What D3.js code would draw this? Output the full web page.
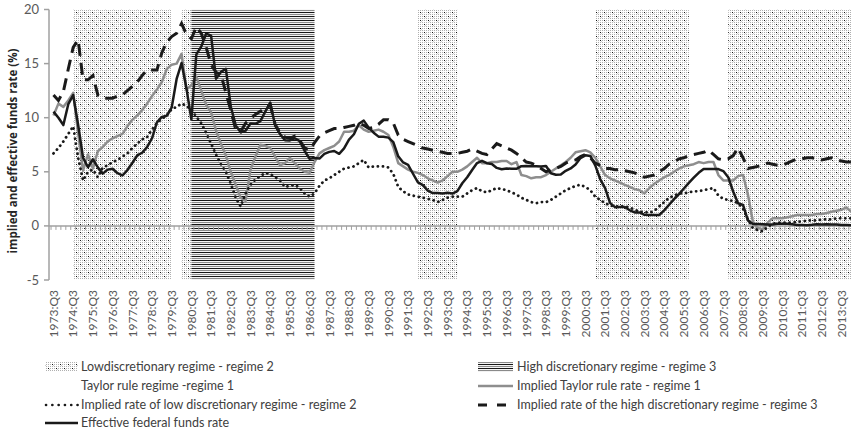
<!DOCTYPE html>
<html>
<head>
<meta charset="utf-8">
<script src="https://cdn.jsdelivr.net/npm/d3@7"></script>
<style>
  body { margin: 0; background: #fff; }
  svg { display: block; }
</style>
</head>
<body>
<div id="chart"></div>
<script>
// quarters from 1973:Q3 to 2014:Q1
var quarters = [];
for (var yr = 1973; yr <= 2014; yr++) {
    for (var q = 1; q <= 4; q++) {
        if (yr == 1973 && q < 3) continue;
        if (yr == 2014 && q > 1) continue;
        quarters.push(yr + ':Q' + q);
    }
}

var tickLabels = ['1973:Q3', '1974:Q3', '1975:Q3', '1976:Q3', '1977:Q3', '1978:Q3', '1979:Q3',
    '1980:Q3', '1981:Q3', '1982:Q3', '1983:Q3', '1984:Q3', '1985:Q3', '1986:Q3', '1987:Q3',
    '1988:Q3', '1989:Q3', '1990:Q3', '1991:Q3', '1992:Q3', '1993:Q3', '1994:Q3', '1995:Q3',
    '1996:Q3', '1997:Q3', '1998:Q3', '1999:Q3', '2000:Q3', '2001:Q3', '2002:Q3', '2003:Q3',
    '2004:Q3', '2005:Q3', '2006:Q3', '2007:Q3', '2008:Q3', '2009:Q3', '2010:Q3', '2011:Q3',
    '2012:Q3', '2013:Q3'];

var yTicks = [-5, 0, 5, 10, 15, 20];

// shaded regimes [from, to]
var regime2Periods = [['1974:Q3', '1979:Q3'], ['1980:Q1', '1980:Q3'], ['1992:Q1', '1994:Q1'],
    ['2001:Q1', '2005:Q4'], ['2007:Q4', '2014:Q1']];
var regime3Periods = [['1980:Q3', '1986:Q4']];

// effective federal funds rate
var effectiveRate = [10.56, 10.00, 9.32, 11.25,
    12.09, 9.35, 6.30, 5.42, 6.16, 5.41, 4.83, 5.20, 5.28, 4.87, 4.66, 5.16,
    5.82, 6.51, 6.76, 7.28, 8.10, 9.58, 10.07, 10.18, 10.95, 13.58, 15.05, 12.69,
    9.84, 15.85, 16.57, 17.78, 17.58, 13.59, 14.23, 14.51, 11.01, 9.29, 8.65, 8.80,
    9.46, 9.43, 9.69, 10.56, 11.39, 9.27, 8.48, 7.92, 7.90, 8.10, 7.83, 6.92,
    6.21, 6.27, 6.22, 6.65, 6.84, 6.92, 6.66, 7.16, 7.98, 8.47, 9.44, 9.73,
    9.08, 8.61, 8.25, 8.24, 8.16, 7.74, 6.43, 5.86, 5.64, 4.82, 4.02, 3.77,
    3.26, 3.04, 3.04, 3.00, 3.06, 2.99, 3.21, 3.94, 4.49, 5.17, 5.81, 6.02,
    5.80, 5.72, 5.36, 5.24, 5.31, 5.28, 5.28, 5.52, 5.53, 5.51, 5.52, 5.50,
    5.53, 4.86, 4.73, 4.75, 5.09, 5.31, 5.68, 6.27, 6.52, 6.47, 5.59, 4.33,
    3.50, 2.13, 1.73, 1.75, 1.74, 1.44, 1.25, 1.25, 1.02, 1.00, 1.00, 1.01,
    1.43, 1.95, 2.47, 2.94, 3.46, 3.98, 4.46, 4.91, 5.25, 5.25, 5.26, 5.25,
    5.07, 4.50, 3.18, 2.09, 1.94, 0.51, 0.18, 0.18, 0.16, 0.12, 0.13, 0.19,
    0.19, 0.19, 0.16, 0.09, 0.08, 0.07, 0.10, 0.15, 0.14, 0.16, 0.14, 0.12,
    0.08, 0.09, 0.07];

// implied Taylor rule rate - regime 1
var taylorRate = [10.2, 11.3, 11.0, 11.6,
    12.3, 8.6, 5.1, 6.6, 5.3, 6.9, 7.3, 7.8, 8.1, 8.3, 8.5, 9.2,
    9.8, 10.2, 10.7, 11.3, 12.0, 12.6, 13.3, 14.5, 14.9, 15.0, 15.9, 12.6,
    13.0, 13.8, 12.5, 11.2, 10.5, 8.8, 7.6, 6.5, 5.0, 3.8, 2.6, 2.3,
    5.2, 6.4, 7.5, 7.4, 7.2, 6.4, 5.6, 5.8, 6.3, 5.8, 5.3, 5.0,
    4.9, 5.9, 6.7, 7.0, 7.2, 7.4, 7.8, 8.7, 8.7, 8.8, 9.3, 8.9,
    8.7, 8.8, 8.9, 8.7, 8.4, 7.3, 5.8, 5.5, 5.2, 5.0, 4.9, 4.7,
    4.4, 4.2, 4.0, 4.2, 4.6, 5.0, 5.0, 5.2, 5.5, 5.9, 6.3, 5.8,
    5.8, 5.9, 5.9, 6.0, 6.0, 5.7, 5.9, 4.7, 4.6, 4.4, 4.5, 4.5,
    4.7, 5.0, 5.3, 5.6, 5.9, 6.3, 6.8, 6.9, 7.0, 6.8, 6.3, 5.5,
    4.7, 4.4, 4.2, 4.0, 3.8, 3.6, 3.4, 3.3, 3.0, 3.5, 3.9, 4.2,
    4.5, 4.7, 5.0, 5.3, 5.5, 5.6, 5.7, 5.9, 5.8, 5.9, 5.9, 4.7,
    4.2, 4.2, 4.2, 4.6, 4.7, 2.9, 0.4, -0.2, -0.3, 0.3, 0.7, 0.7,
    0.7, 0.8, 0.9, 1.0, 1.0, 1.0, 1.0, 1.1, 1.1, 1.2, 1.3, 1.4,
    1.5, 1.7, 1.3];

// implied rate of low discretionary regime - regime 2
var lowRate = [6.7, 7.2, 7.8, 8.5,
    9.2, 6.3, 4.2, 5.0, 5.2, 4.5, 5.4, 5.6, 5.9, 6.1, 6.4, 6.7,
    7.2, 7.6, 8.0, 8.2, 8.9, 9.5, 9.9, 10.2, 10.8, 11.0, 11.3, 11.1,
    10.7, 10.1, 9.5, 8.6, 7.6, 6.6, 5.7, 5.0, 3.9, 2.6, 1.8, 3.0,
    3.8, 4.3, 4.6, 4.9, 4.8, 4.5, 4.2, 3.6, 3.7, 3.8, 3.5, 3.0,
    2.7, 3.0, 3.7, 4.2, 4.4, 4.7, 5.0, 5.3, 5.4, 5.5, 5.8, 6.1,
    5.4, 5.5, 5.5, 5.5, 5.4, 4.8, 3.6, 3.2, 2.9, 2.8, 2.7, 2.6,
    2.5, 2.4, 2.2, 2.4, 2.6, 2.7, 2.7, 2.7, 3.0, 3.3, 3.5, 3.2,
    3.1, 3.3, 3.5, 3.4, 3.3, 3.1, 2.9, 2.6, 2.4, 2.2, 2.1, 2.2,
    2.2, 2.4, 2.7, 3.0, 3.3, 3.5, 3.7, 3.8, 3.6, 3.3, 2.7, 2.4,
    2.1, 1.9, 1.8, 1.8, 1.8, 1.7, 1.5, 1.3, 1.3, 1.2, 1.4, 1.8,
    2.2, 2.6, 2.8, 3.0, 3.0, 3.1, 3.2, 3.2, 3.3, 3.4, 3.5, 2.8,
    2.5, 2.4, 2.3, 2.1, 1.6, 0.6, -0.2, -0.4, -0.5, -0.1, 0.2, 0.3,
    0.3, 0.3, 0.3, 0.4, 0.4, 0.5, 0.5, 0.5, 0.6, 0.6, 0.6, 0.7,
    0.7, 0.7, 0.7];

// implied rate of the high discretionary regime - regime 3
var highRate = [12.1, 11.6, 12.4, 14.5,
    16.5, 17.2, 13.5, 13.5, 13.9, 12.1, 11.8, 11.8, 11.8, 12.0, 12.1, 12.5,
    12.9, 13.3, 13.9, 14.4, 14.4, 14.4, 16.0, 17.0, 17.5, 17.8, 18.7, 17.7,
    17.3, 18.4, 17.8, 16.5, 14.9, 14.2, 14.0, 12.3, 10.7, 8.9, 8.7, 9.5,
    9.9, 10.3, 10.6, 10.9, 11.2, 9.4, 8.6, 8.2, 8.1, 8.3, 7.9, 7.2,
    7.0, 7.7, 8.3, 8.6, 8.8, 9.0, 9.0, 9.1, 9.2, 9.3, 9.5, 9.3,
    9.0, 9.1, 9.4, 9.8, 9.8, 9.5, 8.4, 8.0, 7.8, 7.6, 7.4, 7.2,
    7.1, 7.0, 6.9, 6.8, 6.7, 6.7, 6.7, 6.8, 6.9, 7.1, 6.9, 6.7,
    6.6, 7.1, 7.6, 7.4, 7.2, 7.0, 6.7, 6.3, 5.9, 5.8, 5.6, 5.3,
    5.0, 5.2, 5.3, 5.5, 5.8, 6.0, 6.1, 6.4, 6.6, 6.3, 5.8, 5.6,
    5.3, 5.3, 5.2, 5.2, 5.1, 5.0, 4.9, 4.7, 4.5, 4.6, 4.7, 5.0,
    5.3, 5.7, 5.9, 6.2, 6.3, 6.5, 6.6, 6.7, 6.8, 7.0, 6.6, 6.2,
    6.1, 6.2, 6.5, 7.2, 6.3, 5.3, 5.4, 5.5, 5.6, 5.8, 5.7, 5.6,
    5.6, 5.8, 6.0, 6.2, 6.2, 6.3, 6.3, 6.2, 6.1, 6.2, 6.3, 6.1,
    6.0, 5.9, 5.9];

var width = 851;
var height = 433;

var svg = d3.select('#chart').append('svg')
    .attr('width', width)
    .attr('height', height)
    .style('font-family', 'Lato, "Open Sans", sans-serif');

svg.append('rect')
    .attr('width', width)
    .attr('height', height)
    .attr('fill', '#fff');

var x = d3.scalePoint()
    .domain(quarters)
    .range([53.5, 53.5 + (quarters.length - 1) * 4.925]);
var step = x.step();

var y = d3.scaleLinear()
    .domain([-5, 20])
    .range([280, 9.5]);

// fill patterns
var defs = svg.append('defs');

var dotPat = defs.append('pattern')
    .attr('id', 'lowPat')
    .attr('patternUnits', 'userSpaceOnUse')
    .attr('width', 8)
    .attr('height', 8);
dotPat.append('rect').attr('width', 8).attr('height', 8).attr('fill', '#fff');
for (var px = 0; px < 8; px += 2) {
    for (var py = 0; py < 8; py += 2) {
        var isBlack = (px == 0 && py == 0) || (px == 4 && py == 4);
        dotPat.append('rect')
            .attr('x', px)
            .attr('y', py)
            .attr('width', 1)
            .attr('height', 1)
            .attr('fill', isBlack ? '#111' : '#b0b0b0');
    }
}
dotPat.append('rect').attr('x', 1).attr('y', 1).attr('width', 1).attr('height', 1).attr('fill', '#d0d0d0');
dotPat.append('rect').attr('x', 5).attr('y', 5).attr('width', 1).attr('height', 1).attr('fill', '#d0d0d0');

var stripePat = defs.append('pattern')
    .attr('id', 'highPat')
    .attr('patternUnits', 'userSpaceOnUse')
    .attr('width', 4)
    .attr('height', 4);
stripePat.append('rect').attr('width', 4).attr('height', 4).attr('fill', '#f2f2f2');
stripePat.append('rect').attr('y', 0).attr('width', 4).attr('height', 1).attr('fill', '#151515');
stripePat.append('rect').attr('y', 2).attr('width', 4).attr('height', 1).attr('fill', '#8a8a8a');

// regime shading
svg.append('g').selectAll('rect')
    .data(regime2Periods)
    .enter().append('rect')
    .attr('x', function(d) { return x(d[0]); })
    .attr('y', y(20))
    .attr('width', function(d) { return x(d[1]) - x(d[0]); })
    .attr('height', y(-5) - y(20))
    .attr('fill', 'url(#lowPat)');

svg.append('g').selectAll('rect')
    .data(regime3Periods)
    .enter().append('rect')
    .attr('x', function(d) { return x(d[0]); })
    .attr('y', y(20))
    .attr('width', function(d) { return x(d[1]) - x(d[0]); })
    .attr('height', y(-5) - y(20))
    .attr('fill', 'url(#highPat)');

// axes
var axisColor = '#a0a0a0';
var labelColor = '#595959';

svg.append('line')
    .attr('x1', 49).attr('x2', 49)
    .attr('y1', y(20)).attr('y2', y(-5))
    .attr('stroke', axisColor)
    .attr('stroke-width', 1.5);

svg.append('g').selectAll('line')
    .data(yTicks)
    .enter().append('line')
    .attr('x1', 44).attr('x2', 49)
    .attr('y1', function(d) { return y(d); })
    .attr('y2', function(d) { return y(d); })
    .attr('stroke', axisColor)
    .attr('stroke-width', 1.5);

svg.append('g').selectAll('text')
    .data(yTicks)
    .enter().append('text')
    .attr('x', 39)
    .attr('y', function(d) { return y(d); })
    .attr('dy', '0.35em')
    .attr('text-anchor', 'end')
    .attr('fill', labelColor)
    .style('font-size', '13px')
    .text(function(d) { return d; });

svg.append('line')
    .attr('x1', 49).attr('x2', width)
    .attr('y1', y(0)).attr('y2', y(0))
    .attr('stroke', axisColor)
    .attr('stroke-width', 1.5);

svg.append('g').selectAll('line')
    .data(quarters)
    .enter().append('line')
    .attr('x1', function(d) { return x(d) - step / 2; })
    .attr('x2', function(d) { return x(d) - step / 2; })
    .attr('y1', y(0))
    .attr('y2', y(0) + 4)
    .attr('stroke', axisColor)
    .attr('stroke-width', 1);

svg.append('g').selectAll('text')
    .data(tickLabels)
    .enter().append('text')
    .attr('transform', function(d) { return 'translate(' + x(d) + ',290) rotate(-90)'; })
    .attr('dy', '0.35em')
    .attr('text-anchor', 'end')
    .attr('fill', labelColor)
    .style('font-size', '12px')
    .text(function(d) { return d; });

svg.append('text')
    .attr('transform', 'translate(13,151) rotate(-90)')
    .attr('dy', '0.35em')
    .attr('text-anchor', 'middle')
    .attr('fill', '#262626')
    .attr('font-weight', 'bold')
    .style('font-family', '"Open Sans", sans-serif')
    .style('font-size', '11.5px')
    .text('implied and effective funds rate (%)');

// series lines
function lineFor(values) {
    return d3.line()
        .x(function(d, i) { return x(quarters[i]); })
        .y(function(d) { return y(d); })(values);
}

svg.append('path')
    .attr('d', lineFor(taylorRate))
    .attr('fill', 'none')
    .attr('stroke', '#8e8e8e')
    .attr('stroke-width', 2.5)
    .attr('stroke-linejoin', 'round');

svg.append('path')
    .attr('d', lineFor(lowRate))
    .attr('fill', 'none')
    .attr('stroke', '#1a1a1a')
    .attr('stroke-width', 2.8)
    .attr('stroke-linecap', 'round')
    .attr('stroke-dasharray', '0.1 5');

svg.append('path')
    .attr('d', lineFor(highRate))
    .attr('fill', 'none')
    .attr('stroke', '#1a1a1a')
    .attr('stroke-width', 3)
    .attr('stroke-dasharray', '12 7');

svg.append('path')
    .attr('d', lineFor(effectiveRate))
    .attr('fill', 'none')
    .attr('stroke', '#1a1a1a')
    .attr('stroke-width', 2.5)
    .attr('stroke-linejoin', 'round');

// legend
var legend = svg.append('g')
    .style('font-size', '12.5px')
    .attr('fill', '#404040');

function legendText(xPos, yPos, label) {
    legend.append('text')
        .attr('x', xPos)
        .attr('y', yPos)
        .attr('dy', '0.35em')
        .text(label);
}

legend.append('rect')
    .attr('x', 45).attr('y', 362)
    .attr('width', 33).attr('height', 10)
    .attr('fill', 'url(#lowPat)');
legendText(81, 367, 'Lowdiscretionary regime - regime 2');

legendText(81, 386, 'Taylor rule regime -regime 1');

legend.append('line')
    .attr('x1', 46).attr('x2', 78)
    .attr('y1', 405).attr('y2', 405)
    .attr('stroke', '#1a1a1a')
    .attr('stroke-width', 2.6)
    .attr('stroke-linecap', 'round')
    .attr('stroke-dasharray', '0.1 6.2');
legendText(81, 405, 'Implied rate of low discretionary regime - regime 2');

legend.append('line')
    .attr('x1', 45).attr('x2', 78)
    .attr('y1', 423).attr('y2', 423)
    .attr('stroke', '#1a1a1a')
    .attr('stroke-width', 2.5);
legendText(81, 423, 'Effective federal funds rate');

legend.append('rect')
    .attr('x', 478).attr('y', 362)
    .attr('width', 35).attr('height', 10)
    .attr('fill', 'url(#highPat)');
legendText(517, 367, 'High discretionary regime - regime 3');

legend.append('line')
    .attr('x1', 478).attr('x2', 513)
    .attr('y1', 386).attr('y2', 386)
    .attr('stroke', '#8e8e8e')
    .attr('stroke-width', 2.5);
legendText(517, 386, 'Implied Taylor rule rate - regime 1');

legend.append('line')
    .attr('x1', 478).attr('x2', 513)
    .attr('y1', 405).attr('y2', 405)
    .attr('stroke', '#1a1a1a')
    .attr('stroke-width', 3)
    .attr('stroke-dasharray', '9 10');
legendText(517, 405, 'Implied rate of the high discretionary regime - regime 3');
</script>
</body>
</html>
